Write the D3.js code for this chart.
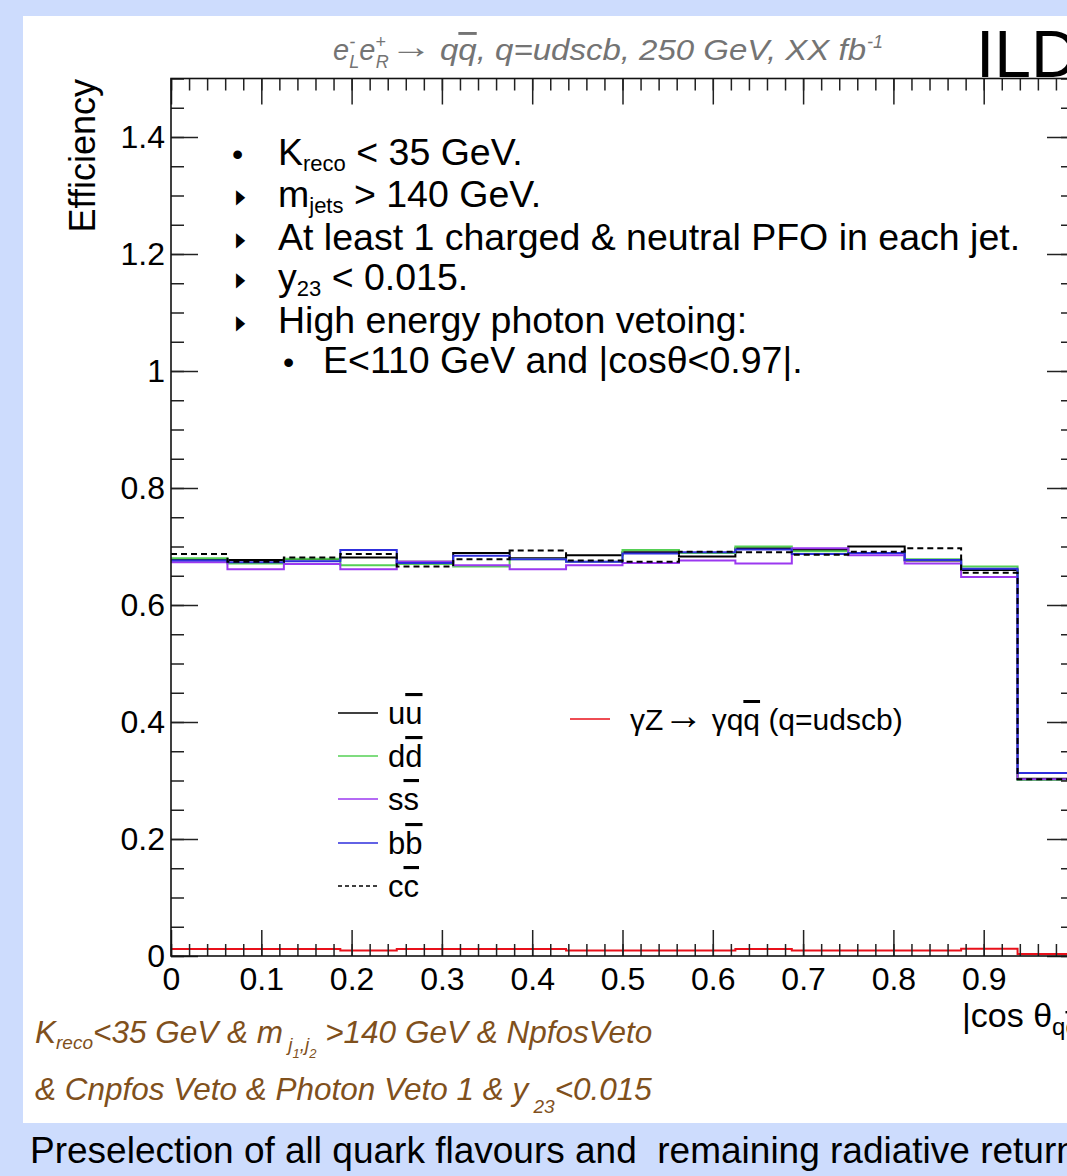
<!DOCTYPE html>
<html><head><meta charset="utf-8">
<script src="https://cdn.jsdelivr.net/npm/d3@7"></script>
<style>
body{margin:0;background:#cddcfd;}
svg{display:block;}
text{font-family:"Liberation Sans",Arial,Helvetica,sans-serif;}
</style>
</head><body>
<svg id="c" width="1067" height="1176"></svg>
<script>
// ---------------- data ----------------
const binEdges = [0,0.0625,0.125,0.1875,0.25,0.3125,0.375,0.4375,0.5,0.5625,0.625,0.6875,0.75,0.8125,0.875,0.9375,1];
const effUU = [0.678,0.677,0.678,0.681,0.674,0.689,0.680,0.685,0.690,0.683,0.697,0.694,0.700,0.676,0.660,0.303];
const effDD = [0.680,0.671,0.679,0.668,0.670,0.666,0.678,0.674,0.694,0.689,0.700,0.692,0.689,0.678,0.666,0.301];
const effSS = [0.673,0.661,0.670,0.661,0.674,0.668,0.661,0.668,0.672,0.676,0.671,0.697,0.685,0.671,0.648,0.302];
const effBB = [0.676,0.673,0.675,0.694,0.672,0.684,0.678,0.674,0.688,0.690,0.695,0.687,0.689,0.677,0.662,0.313];
const effCC = [0.687,0.674,0.681,0.687,0.666,0.678,0.693,0.676,0.674,0.691,0.690,0.686,0.691,0.697,0.655,0.302];
const effRad = [0.012,0.012,0.012,0.0095,0.012,0.012,0.012,0.0095,0.0095,0.0095,0.012,0.0095,0.0095,0.0095,0.0125,0.0035];
const xTickValues = [0,0.1,0.2,0.3,0.4,0.5,0.6,0.7,0.8,0.9,1];
const xTickLabels = ["0","0.1","0.2","0.3","0.4","0.5","0.6","0.7","0.8","0.9","1"];
const yTickValues = [0,0.2,0.4,0.6,0.8,1,1.2,1.4];
const yTickLabels = ["0","0.2","0.4","0.6","0.8","1","1.2","1.4"];
const legendNames = [["u","u"],["d","d"],["s","s"],["b","b"],["c","c"]];

// ---------------- layout ----------------
const svg = d3.select("#c");
const X0 = 171, X1 = 1074, Y0 = 956, Y1 = 78.5;
const x = d3.scaleLinear().domain([0,1]).range([X0,X1]);
const y = d3.scaleLinear().domain([0,1.5]).range([Y0,Y1]);

svg.append("rect").attr("width",1067).attr("height",1176).attr("fill","#cddcfd");
svg.append("rect").attr("x",23).attr("y",16).attr("width",1044).attr("height",1107).attr("fill","#fff");

const defs = svg.append("defs");
defs.append("clipPath").attr("id","plot").append("rect")
  .attr("x",X0).attr("y",Y1).attr("width",X1-X0).attr("height",Y0-Y1);

// ---------------- histograms ----------------
const series = [
  {v:effUU, c:"#000000", dash:null},
  {v:effDD, c:"#55d055", dash:null},
  {v:effSS, c:"#9b38f0", dash:null},
  {v:effBB, c:"#2e2edc", dash:null},
  {v:effCC, c:"#000000", dash:"6,4"},
  {v:effRad, c:"#e8101a", dash:null}
];
const line = d3.line().x(d=>x(d[0])).y(d=>y(d[1])).curve(d3.curveStepAfter);
const hg = svg.append("g").attr("clip-path","url(#plot)");
series.forEach(s=>{
  const pts = binEdges.map((e,i)=>[e, s.v[Math.min(i,s.v.length-1)]]);
  hg.append("path").attr("d",line(pts)).attr("fill","none")
    .attr("stroke",s.c).attr("stroke-width",2)
    .attr("stroke-dasharray",s.dash);
});

// ---------------- axes ----------------
function styleAxis(g){
  g.select(".domain").remove();
  g.selectAll(".tick line").attr("stroke","#222").attr("stroke-width",1.5);
  g.selectAll("text").attr("fill","#000").style("font-family","'Liberation Sans',Arial,sans-serif");
}
const xMinor = d3.range(0,1.0001,0.02);
const yMinor = d3.range(0,1.5001,0.05);
svg.append("g").attr("transform",`translate(0,${Y0})`)
  .call(d3.axisBottom(x).tickValues(xMinor).tickSize(-12).tickFormat(""))
  .call(styleAxis);
svg.append("g").attr("transform",`translate(0,${Y0})`)
  .call(d3.axisBottom(x).tickValues(xTickValues).tickSize(-26).tickPadding(11)
    .tickFormat((d,i)=>xTickLabels[i]))
  .call(styleAxis)
  .call(g=>g.selectAll("text").attr("font-size",32).attr("dy","0.71em"));
svg.append("g").attr("transform",`translate(0,${Y1})`)
  .call(d3.axisTop(x).tickValues(xMinor).tickSize(-12).tickFormat(""))
  .call(styleAxis);
svg.append("g").attr("transform",`translate(0,${Y1})`)
  .call(d3.axisTop(x).tickValues(xTickValues).tickSize(-26).tickFormat(""))
  .call(styleAxis);
svg.append("g").attr("transform",`translate(${X0},0)`)
  .call(d3.axisLeft(y).tickValues(yMinor).tickSize(-13).tickFormat(""))
  .call(styleAxis);
svg.append("g").attr("transform",`translate(${X0},0)`)
  .call(d3.axisLeft(y).tickValues(yTickValues).tickSize(-27).tickPadding(6)
    .tickFormat((d,i)=>yTickLabels[i]))
  .call(styleAxis)
  .call(g=>g.selectAll("text").attr("font-size",32));
svg.append("g").attr("transform",`translate(${X1},0)`)
  .call(d3.axisRight(y).tickValues(yMinor).tickSize(-13).tickFormat(""))
  .call(styleAxis);
svg.append("g").attr("transform",`translate(${X1},0)`)
  .call(d3.axisRight(y).tickValues(yTickValues).tickSize(-27).tickFormat(""))
  .call(styleAxis);
svg.append("rect").attr("x",X0).attr("y",Y1).attr("width",X1-X0).attr("height",Y0-Y1)
  .attr("fill","none").attr("stroke","#111").attr("stroke-width",1.6);

// ---------------- axis titles ----------------
svg.append("text").attr("transform","translate(95,79) rotate(-90)")
  .attr("text-anchor","end").attr("font-size",36).text("Efficiency");
const xt = svg.append("text").attr("x",962).attr("y",1027).attr("font-size",34);
xt.append("tspan").text("|cos θ");
xt.append("tspan").attr("font-size",24).attr("dy",8).text("q");
xt.append("tspan").attr("font-size",24).style("text-decoration","overline").text("q");
xt.append("tspan").attr("dy",-8).text("|");

// ---------------- top title ----------------
const grey = "#747474";
const tA = svg.append("text").attr("x",333).attr("y",60).attr("font-size",29)
  .attr("font-style","italic").attr("fill",grey);
tA.append("tspan").text("e");
tA.append("tspan").attr("font-size",18).attr("dy",-12).text("-");
tA.append("tspan").attr("font-size",18).attr("dx",-6).attr("dy",20).text("L");
tA.append("tspan").attr("dy",-8).text("e");
tA.append("tspan").attr("font-size",18).attr("dy",-12).text("+");
tA.append("tspan").attr("font-size",18).attr("dx",-10).attr("dy",20).text("R");
svg.append("text").attr("x",390).attr("y",58).attr("font-size",34).attr("fill",grey)
  .attr("textLength",42).attr("lengthAdjust","spacingAndGlyphs").text("→");
const tB = svg.append("text").attr("x",440).attr("y",60).attr("font-size",29)
  .attr("font-style","italic").attr("fill",grey)
  .attr("textLength",426).attr("lengthAdjust","spacingAndGlyphs").style("white-space","pre");
tB.append("tspan").text("q");
tB.append("tspan").style("text-decoration","overline").text("q");
tB.append("tspan").text(", q=udscb, 250 GeV, XX fb");
svg.append("text").attr("x",867).attr("y",48).attr("font-size",18)
  .attr("font-style","italic").attr("fill",grey).text("-1");

svg.append("text").attr("x",976).attr("y",77).attr("font-size",66).attr("fill","#000").text("ILD");

// ---------------- bullet list ----------------
const bx = 278, fs = 37.5;
const bullets = [
  {y:165, mark:"dot", mx:232, parts:[["K",0],["reco",1],[" < 35 GeV.",0]]},
  {y:207, mark:"tri", mx:236, parts:[["m",0],["jets",1],[" > 140 GeV.",0]]},
  {y:250, mark:"tri", mx:236, parts:[["At least 1 charged & neutral PFO in each jet.",0]]},
  {y:290, mark:"tri", mx:236, parts:[["y",0],["23",1],[" < 0.015.",0]]},
  {y:333, mark:"tri", mx:236, parts:[["High energy photon vetoing:",0]]},
  {y:373, mark:"dot", mx:283, tx:323, parts:[["E<110 GeV and |cosθ<0.97|.",0]]}
];
bullets.forEach(b=>{
  if(b.mark==="dot"){
    svg.append("text").attr("x",b.mx).attr("y",b.y).attr("font-size",32).text("•");
  } else {
    svg.append("text").attr("x",b.mx).attr("y",b.y-4).attr("font-size",20)
      .attr("textLength",9).attr("lengthAdjust","spacingAndGlyphs").text("▶");
  }
  const t = svg.append("text").attr("x",b.tx||bx).attr("y",b.y).attr("font-size",fs).style("white-space","pre");
  let sub = false;
  b.parts.forEach(p=>{
    const ts = t.append("tspan").text(p[0]);
    if(p[1]===1){ ts.attr("font-size",22).attr("dy",6); sub=true; }
    else if(sub){ ts.attr("dy",-6); sub=false; }
  });
});

// ---------------- legend ----------------
const legY = [713,756,799,843,886];
series.slice(0,5).forEach((s,i)=>{
  svg.append("line").attr("x1",338).attr("x2",378).attr("y1",legY[i]).attr("y2",legY[i])
    .attr("stroke",s.c).attr("stroke-width",1.5).attr("stroke-dasharray",s.dash?"4,3":null);
  const t = svg.append("text").attr("x",388).attr("y",legY[i]+11).attr("font-size",31);
  t.append("tspan").text(legendNames[i][0]);
  t.append("tspan").style("text-decoration","overline").text(legendNames[i][1]);
});
svg.append("line").attr("x1",570).attr("x2",610).attr("y1",719).attr("y2",719)
  .attr("stroke","#e8101a").attr("stroke-width",1.5);
const rl = svg.append("text").attr("x",630).attr("y",730).attr("font-size",30).style("white-space","pre");
rl.append("tspan").text("γZ");
rl.append("tspan").attr("font-size",40).attr("dy",-1).text("→");
rl.append("tspan").attr("dy",1).text(" γq");
rl.append("tspan").style("text-decoration","overline").text("q");
rl.append("tspan").text(" (q=udscb)");

// ---------------- bottom-left cut text ----------------
const brown = "#80501c";
const c1 = svg.append("text").attr("x",35).attr("y",1043).attr("font-size",31.5)
  .attr("font-style","italic").attr("fill",brown).style("white-space","pre");
c1.append("tspan").text("K");
c1.append("tspan").attr("font-size",19).attr("dy",6).text("reco");
c1.append("tspan").attr("dy",-6).text("<35 GeV & m");
c1.append("tspan").attr("font-size",19).attr("dy",8).text(" j");
c1.append("tspan").attr("font-size",13).attr("dy",7).text("1");
c1.append("tspan").attr("font-size",19).attr("dy",-7).text(",j");
c1.append("tspan").attr("font-size",13).attr("dy",7).text("2");
c1.append("tspan").attr("dy",-15).text(" >140 GeV & NpfosVeto");

const c2 = svg.append("text").attr("x",35).attr("y",1100).attr("font-size",31.5)
  .attr("font-style","italic").attr("fill",brown).style("white-space","pre");
c2.append("tspan").text("& Cnpfos Veto & Photon Veto 1 & y");
c2.append("tspan").attr("font-size",19).attr("dy",13).text(" 23");
c2.append("tspan").attr("dy",-13).text("<0.015");

// ---------------- caption ----------------
svg.append("text").attr("x",30).attr("y",1163).attr("font-size",37).style("white-space","pre")
  .text("Preselection of all quark flavours and  remaining radiative return");
</script>
</body></html>
